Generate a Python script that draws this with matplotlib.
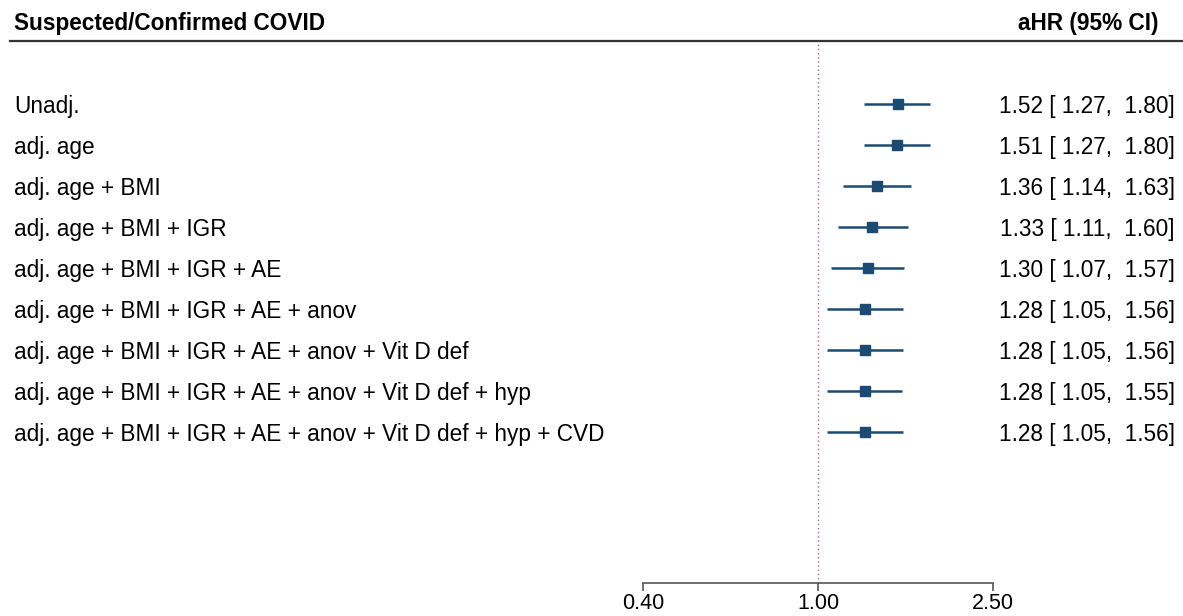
import numpy as np
import matplotlib.pyplot as plt

labels = [
    "Unadj.",
    "adj. age",
    "adj. age + BMI",
    "adj. age + BMI + IGR",
    "adj. age + BMI + IGR + AE",
    "adj. age + BMI + IGR + AE + anov",
    "adj. age + BMI + IGR + AE + anov + Vit D def",
    "adj. age + BMI + IGR + AE + anov + Vit D def + hyp",
    "adj. age + BMI + IGR + AE + anov + Vit D def + hyp + CVD",
]
hr = [1.52, 1.51, 1.36, 1.33, 1.30, 1.28, 1.28, 1.28, 1.28]
lo = [1.27, 1.27, 1.14, 1.11, 1.07, 1.05, 1.05, 1.05, 1.05]
hi = [1.80, 1.80, 1.63, 1.60, 1.57, 1.56, 1.56, 1.55, 1.56]
ticks = [0.40, 1.00, 2.50]


def main():
    plt.rcParams["font.family"] = ["Liberation Sans", "DejaVu Sans"]
    W, H = 1183, 616
    fig = plt.figure(figsize=(W / 100, H / 100), dpi=100)

    # axes spans the whole width, bottom edge is the x axis line
    axis_px = 583
    ax = fig.add_axes([0, (H - axis_px) / H, 1, axis_px / H])

    # log x: 1.00 at px 818, 191 px per ln unit
    x0, k = 818, 191.0
    ax.set_xscale("log")
    ax.set_xlim(np.exp(-x0 / k), np.exp((W - x0) / k))

    # rows: first at px 104, 41 px apart
    r0, dr = 104, 41.0
    ax.set_ylim((axis_px - r0) / dr, -r0 / dr)

    def px2row(p):
        return (p - r0) / dr

    blue = "#1b4a73"
    rows = np.arange(len(labels))
    for i in rows:
        ax.plot([lo[i], hi[i]], [i, i], color=blue, lw=1.8, solid_capstyle="butt", zorder=3)
    ax.plot(hr, rows, "s", color=blue, ms=6.5, zorder=4)

    ax.axvline(1.0, ymin=0, ymax=1 - 42 / axis_px, color="#e0507a", lw=1, ls=(0, (1, 2)), zorder=1)

    tr = ax.get_yaxis_transform()
    fs = 16.3
    dy = 0.05
    for i in rows:
        ax.text(14 / W, i + dy, labels[i], transform=tr, ha="left", va="center", fontsize=fs)
        ax.text(1175 / W, i + dy, f"{hr[i]:.2f} [ {lo[i]:.2f},  {hi[i]:.2f}]", transform=tr,
                ha="right", va="center", fontsize=fs)

    ax.text(14 / W, px2row(23), "Suspected/Confirmed COVID", transform=tr, ha="left",
            va="center", fontsize=fs, fontweight="bold")
    ax.text(1158 / W, px2row(23), "aHR (95% CI)", transform=tr, ha="right",
            va="center", fontsize=fs, fontweight="bold")
    ax.plot([10 / W, 1.0], [px2row(41), px2row(41)], transform=tr, color="#333333", lw=1.6,
            clip_on=False)

    for s in ["top", "right", "left"]:
        ax.spines[s].set_visible(False)
    ax.spines["bottom"].set_bounds(ticks[0], ticks[-1])
    ax.spines["bottom"].set_color("#555555")
    ax.spines["bottom"].set_linewidth(1.2)
    ax.set_xticks(ticks)
    ax.set_xticklabels([f"{t:.2f}" for t in ticks])
    ax.minorticks_off()
    ax.tick_params(axis="x", length=6, width=1.2, color="#555555", labelsize=15.5, pad=1)
    ax.set_yticks([])
    ax.patch.set_visible(False)

    fig.savefig("out.png", dpi=100)


if __name__ == "__main__":
    main()
